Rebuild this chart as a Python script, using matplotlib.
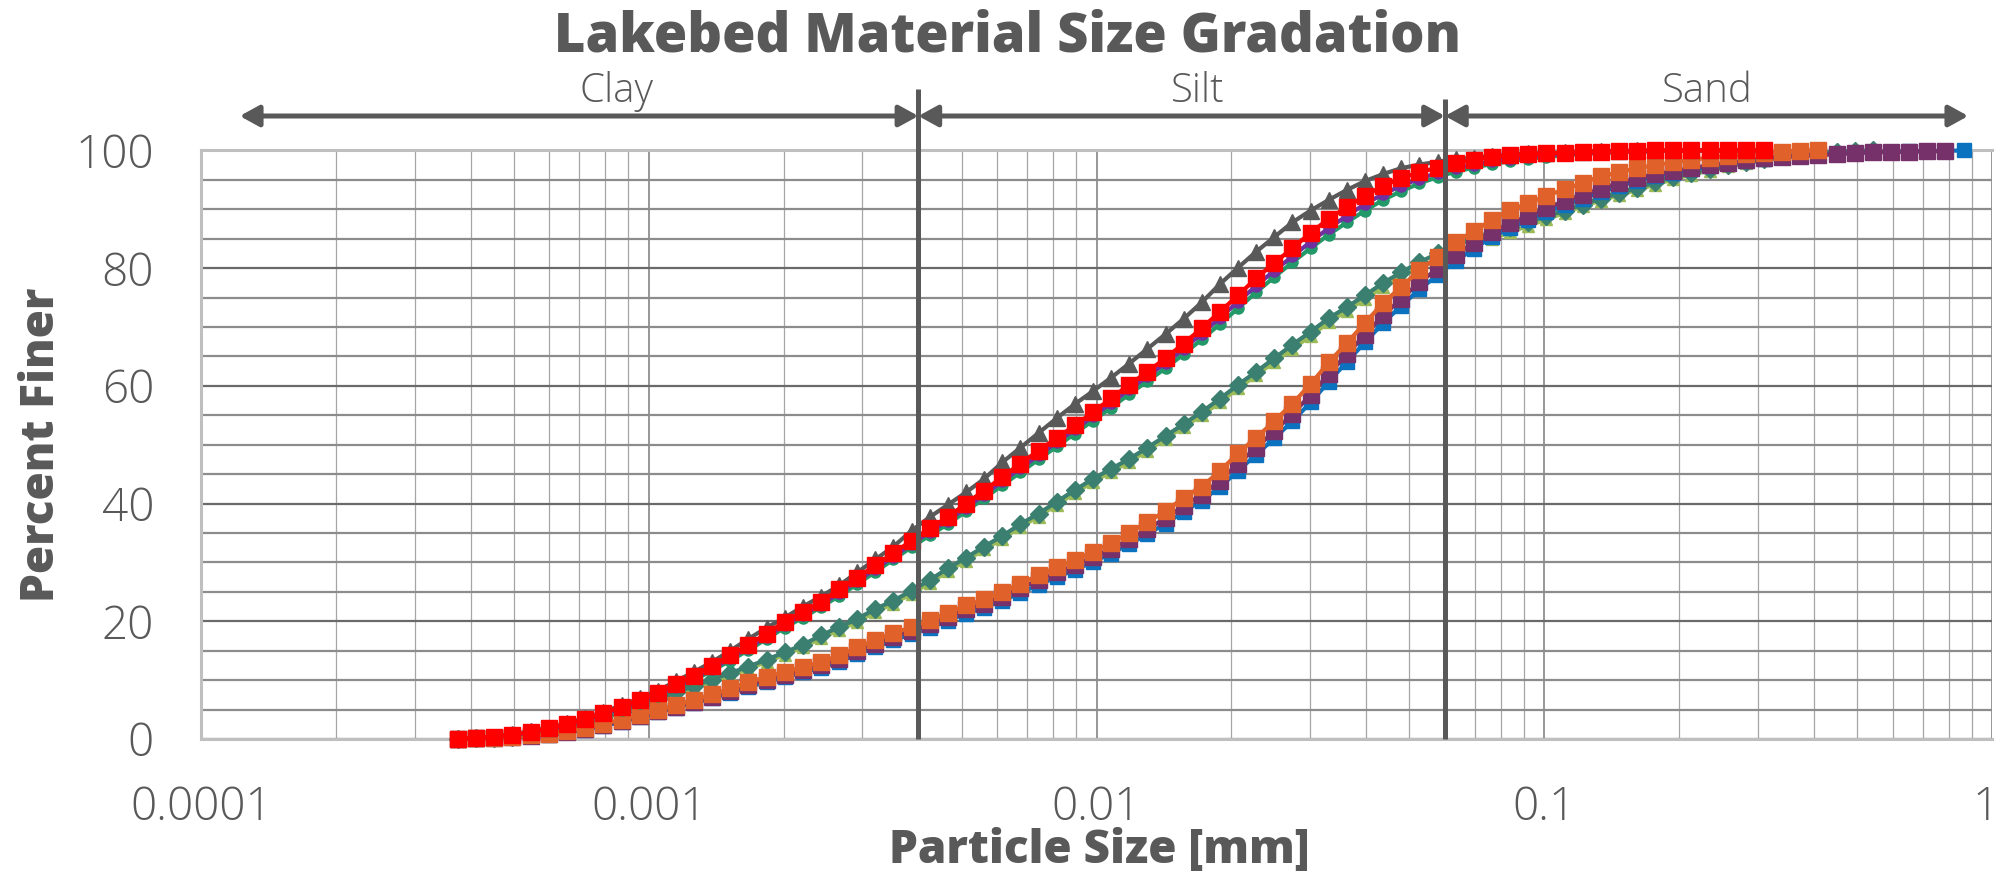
import numpy as np
import matplotlib
matplotlib.use("Agg")
import matplotlib.pyplot as plt
import matplotlib.transforms as mtransforms
from matplotlib.ticker import FixedLocator, LogLocator, MultipleLocator, NullFormatter

# Laser-diffraction channel sizes (mm)
SIZES_MM = [
    0.000375, 0.000412, 0.000452, 0.000496, 0.000545, 0.000598, 0.000657, 0.000721, 0.000791, 0.000869,
    0.000954, 0.001047, 0.001149, 0.001261, 0.001385, 0.001520, 0.001669, 0.001832, 0.002010, 0.002207,
    0.002423, 0.002660, 0.002920, 0.003205, 0.003519, 0.003863, 0.004240, 0.004655, 0.005110, 0.005610,
    0.006158, 0.006760, 0.007421, 0.008147, 0.008943, 0.009817, 0.01078, 0.01183, 0.01299, 0.01426,
    0.01565, 0.01718, 0.01886, 0.02071, 0.02273, 0.02495, 0.02739, 0.03007, 0.03301, 0.03624,
    0.03978, 0.04367, 0.04794, 0.05262, 0.05777, 0.06341, 0.06961, 0.07642, 0.08389, 0.09209,
    0.1011, 0.1110, 0.1218, 0.1337, 0.1468, 0.1612, 0.1769, 0.1942, 0.2132, 0.2341,
    0.2569, 0.2821, 0.3096, 0.3399, 0.3731, 0.4096, 0.4497, 0.4936, 0.5419, 0.5949,
    0.6530, 0.7168, 0.7869, 0.8639,
]

# Cumulative percent finer for each sample
SAMPLE_YG = [
    0.0, 0.1, 0.2, 0.4, 0.7, 1.1, 1.7, 2.5, 3.4, 4.4,
    5.4, 6.5, 7.5, 8.6, 9.7, 10.8, 11.9, 13.1, 14.3, 15.6,
    17.1, 18.5, 19.9, 21.6, 23.0, 24.7, 26.5, 28.5, 30.3, 32.2,
    34.0, 36.0, 37.8, 39.8, 41.8, 43.7, 45.4, 47.1, 49.0, 51.0,
    53.0, 55.0, 57.2, 59.6, 61.8, 64.1, 66.3, 68.5, 70.8, 72.8,
    74.8, 76.8, 78.6, 80.1, 81.4, 82.5, 83.8, 85.0, 86.1, 87.2,
    88.3, 89.4, 90.5, 91.5, 92.4, 93.3, 94.2, 95.1, 95.9, 96.6,
    97.3, 97.9, 98.4, 98.8, 99.2, 99.5, 99.7, 99.9, 100.0,
]
SAMPLE_TEAL = [
    0.0, 0.1, 0.2, 0.4, 0.7, 1.2, 1.8, 2.6, 3.6, 4.6,
    5.7, 6.8, 7.9, 9.0, 10.1, 11.2, 12.3, 13.5, 14.7, 16.0,
    17.6, 19.0, 20.4, 22.1, 23.5, 25.2, 27.0, 29.0, 30.8, 32.7,
    34.5, 36.5, 38.3, 40.3, 42.3, 44.2, 45.9, 47.6, 49.5, 51.5,
    53.5, 55.6, 57.8, 60.2, 62.4, 64.7, 67.0, 69.2, 71.5, 73.4,
    75.4, 77.5, 79.3, 81.0, 82.5, 83.8, 85.0, 86.0, 87.0, 87.9,
    88.8, 89.8, 90.8, 91.8, 92.7, 93.6, 94.6, 95.5, 96.2, 96.9,
    97.5, 98.1, 98.6, 99.0, 99.3, 99.6, 99.8, 99.9, 100.0,
]
SAMPLE_BLUE = [
    0.0, 0.1, 0.15, 0.25, 0.45, 0.7, 1.1, 1.6, 2.2, 2.9,
    3.7, 4.5, 5.3, 6.1, 6.9, 7.8, 8.8, 9.7, 10.5, 11.3,
    12.1, 13.1, 14.4, 15.6, 16.8, 17.8, 18.9, 20.1, 21.3, 22.3,
    23.5, 24.8, 26.2, 27.5, 28.7, 30.1, 31.5, 33.1, 34.8, 36.6,
    38.6, 40.5, 42.8, 45.6, 48.3, 51.1, 54.0, 57.2, 60.7, 64.1,
    67.4, 70.7, 73.6, 76.4, 78.8, 81.2, 83.3, 85.3, 86.8, 88.2,
    89.5, 90.7, 91.8, 92.9, 93.9, 94.8, 95.6, 96.2, 96.8, 97.3,
    97.8, 98.2, 98.6, 98.9, 99.1, 99.3, 99.45, 99.6, 99.7, 99.8,
    99.85, 99.9, 99.95, 100.0,
]
SAMPLE_PLUM = [
    0.0, 0.1, 0.2, 0.3, 0.5, 0.8, 1.2, 1.7, 2.4, 3.1,
    3.9, 4.7, 5.5, 6.3, 7.2, 8.2, 9.2, 10.1, 10.9, 11.7,
    12.6, 13.6, 15.0, 16.2, 17.4, 18.4, 19.5, 20.7, 22.0, 23.0,
    24.2, 25.6, 27.0, 28.3, 29.5, 30.9, 32.3, 33.9, 35.7, 37.5,
    39.6, 41.5, 43.9, 46.8, 49.5, 52.3, 55.2, 58.5, 62.0, 65.4,
    68.7, 72.0, 74.8, 77.6, 79.9, 82.3, 84.3, 86.2, 87.6, 88.9,
    90.2, 91.4, 92.5, 93.5, 94.5, 95.3, 96.0, 96.5, 97.0, 97.5,
    97.9, 98.3, 98.7, 98.9, 99.1, 99.2, 99.4, 99.6, 99.7, 99.75,
    99.8, 99.85, 99.9,
]
SAMPLE_ORANGE = [
    0.0, 0.1, 0.2, 0.35, 0.6, 0.9, 1.3, 1.9, 2.6, 3.3,
    4.1, 4.9, 5.8, 6.6, 7.6, 8.6, 9.6, 10.6, 11.4, 12.2,
    13.1, 14.2, 15.6, 16.8, 18.0, 19.0, 20.2, 21.4, 22.7, 23.7,
    25.0, 26.4, 27.8, 29.2, 30.4, 31.8, 33.3, 35.0, 36.9, 38.7,
    41.0, 42.9, 45.5, 48.6, 51.2, 54.0, 57.0, 60.3, 64.0, 67.3,
    70.7, 74.1, 76.8, 79.7, 81.9, 84.5, 86.3, 88.2, 89.9, 91.0,
    92.3, 93.4, 94.5, 95.6, 96.3, 97.0, 97.5, 98.0, 98.4, 98.8,
    99.1, 99.35, 99.6, 99.8, 99.95, 100.0,
]
SAMPLE_GREEN = [
    0.0, 0.15, 0.35, 0.6, 1.0, 1.6, 2.3, 3.1, 4.0, 5.0,
    6.1, 7.3, 8.6, 10.0, 11.6, 13.3, 15.1, 17.0, 18.9, 20.6,
    22.4, 24.3, 26.3, 28.4, 30.5, 32.6, 34.6, 36.5, 38.7, 40.9,
    43.1, 45.3, 47.5, 49.7, 51.9, 54.1, 56.3, 58.6, 60.8, 63.0,
    65.4, 67.9, 70.5, 73.2, 75.9, 78.5, 81.0, 83.4, 85.7, 87.8,
    89.8, 91.6, 93.1, 94.4, 95.5, 96.4, 97.1, 97.7, 98.2, 98.6,
    98.9, 99.2, 99.4, 99.6, 99.7, 99.8, 99.9, 99.95, 100.0, 100.0,
    100.0, 100.0, 100.0,
]
SAMPLE_VIOLET = [
    0.0, 0.2, 0.4, 0.7, 1.1, 1.7, 2.4, 3.2, 4.2, 5.2,
    6.3, 7.5, 8.9, 10.3, 11.9, 13.7, 15.5, 17.4, 19.3, 21.0,
    22.8, 24.8, 26.8, 28.9, 31.0, 33.1, 35.2, 37.1, 39.3, 41.5,
    43.8, 46.0, 48.2, 50.4, 52.6, 54.8, 57.1, 59.4, 61.6, 63.9,
    66.3, 68.9, 71.6, 74.3, 77.0, 79.6, 82.0, 84.5, 86.8, 88.9,
    90.9, 92.6, 94.0, 95.2, 96.2, 97.0, 97.6, 98.2, 98.6, 98.9,
    99.2, 99.4, 99.55, 99.7, 99.8, 99.85, 99.9, 99.95, 100.0, 100.0,
    100.0, 100.0, 100.0,
]
SAMPLE_GRAY = [
    0.0, 0.2, 0.4, 0.8, 1.3, 1.9, 2.7, 3.6, 4.6, 5.7,
    6.9, 8.2, 9.8, 11.4, 13.1, 15.0, 17.0, 18.9, 20.6, 22.5,
    24.2, 26.1, 28.3, 30.5, 32.7, 35.4, 37.7, 39.8, 41.9, 44.2,
    47.0, 49.5, 52.0, 54.5, 56.9, 59.1, 61.4, 63.8, 66.3, 68.8,
    71.4, 74.2, 77.3, 80.1, 82.8, 85.3, 87.8, 89.8, 91.6, 93.3,
    94.8, 96.0, 97.0, 97.6, 98.1, 98.5, 98.8, 99.1, 99.3, 99.5,
    99.6, 99.7, 99.8, 99.9, 99.95, 100.0, 100.0, 100.0, 100.0, 100.0,
    100.0, 100.0, 100.0,
]
SAMPLE_RED = [
    0.0, 0.2, 0.4, 0.7, 1.2, 1.8, 2.5, 3.4, 4.4, 5.5,
    6.6, 7.8, 9.3, 10.7, 12.4, 14.2, 16.0, 17.9, 19.9, 21.6,
    23.3, 25.4, 27.4, 29.5, 31.6, 33.7, 35.8, 37.7, 40.0, 42.2,
    44.5, 46.8, 49.0, 51.1, 53.3, 55.5, 57.9, 60.2, 62.4, 64.7,
    67.2, 69.8, 72.6, 75.4, 78.3, 80.9, 83.4, 86.0, 88.4, 90.4,
    92.3, 94.0, 95.3, 96.3, 97.1, 97.8, 98.4, 98.9, 99.2, 99.35,
    99.5, 99.6, 99.7, 99.8, 99.85, 99.9, 100.0, 100.0, 100.0, 100.0,
    100.0, 100.0, 100.0,
]

# Soil class boundaries (mm) and labels
CLASS_BOUNDS = [0.004, 0.06]
CLASS_NAMES = ["Clay", "Silt", "Sand"]

XTICKS = [0.0001, 0.001, 0.01, 0.1, 1]
XTICK_LABELS = ["0.0001", "0.001", "0.01", "0.1", "1"]
YTICKS = [0, 20, 40, 60, 80, 100]
YTICK_LABELS = ["0", "20", "40", "60", "80", "100"]

TEXT = "#595959"
plt.rcParams["font.family"] = ["Open Sans", "DejaVu Sans"]

# draw order: later entries sit on top
STYLES = [
    (SAMPLE_YG, "#9BBB59", "^", 9),
    (SAMPLE_TEAL, "#3B7F70", "D", 9.5),
    (SAMPLE_BLUE, "#0B72C0", "s", 10),
    (SAMPLE_PLUM, "#76306A", "s", 11),
    (SAMPLE_ORANGE, "#E0622A", "s", 11),
    (SAMPLE_GREEN, "#23996A", "o", 8),
    (SAMPLE_VIOLET, "#7030A0", "o", 8),
    (SAMPLE_GRAY, "#595959", "^", 11.5),
    (SAMPLE_RED, "#FF0000", "s", 11.5),
]

fig = plt.figure(figsize=(19.99, 8.77), dpi=100)
ax = fig.add_axes([0.1006, 0.1574, 0.8959, 0.6710])

for i, (vals, col, mk, ms) in enumerate(STYLES):
    ax.plot(SIZES_MM[:len(vals)], vals, color=col, lw=3.0, marker=mk, ms=ms,
            mfc=col, mec=col, clip_on=False, zorder=3 + i * 0.1)

ax.set_xscale("log")
ax.set_xlim(1e-4, 1)
ax.set_ylim(0, 100)
ax.xaxis.set_major_locator(FixedLocator(XTICKS))
ax.set_xticklabels(XTICK_LABELS)
ax.xaxis.set_minor_locator(LogLocator(base=10, subs=np.arange(2, 10), numticks=40))
ax.xaxis.set_minor_formatter(NullFormatter())
ax.yaxis.set_major_locator(FixedLocator(YTICKS))
ax.set_yticklabels(YTICK_LABELS)
ax.yaxis.set_minor_locator(MultipleLocator(5))

ax.set_axisbelow(True)
ax.grid(which="major", axis="x", color="#7A7A7A", lw=1.1)
ax.grid(which="minor", axis="x", color="#A6A6A6", lw=0.9)
ax.grid(which="major", axis="y", color="#6A6A6A", lw=1.6)
ax.grid(which="minor", axis="y", color="#8C8C8C", lw=1.6)
ax.tick_params(which="both", length=0)
ax.tick_params(axis="x", labelsize=33, labelcolor=TEXT, pad=33)
ax.tick_params(axis="y", labelsize=33, labelcolor=TEXT, pad=34)
for lab in ax.get_xticklabels() + ax.get_yticklabels():
    lab.set_fontweight("light")

# keep the last x label inside the canvas
last = ax.get_xticklabels()[-1]
last.set_horizontalalignment("right")
last.set_transform(last.get_transform() +
                   mtransforms.ScaledTranslation(7 / 100, 0, fig.dpi_scale_trans))

for side in ["top", "left", "bottom"]:
    ax.spines[side].set_color("#BFBFBF")
    ax.spines[side].set_linewidth(2.2)
ax.spines["right"].set_visible(False)

# class boundary lines and range arrows above the plot
xt = ax.get_xaxis_transform()
line_tops = [1.1045, 1.0875]
for b, top in zip(CLASS_BOUNDS, line_tops):
    ax.plot([b, b], [0, top], transform=xt, color="#595959", lw=3.6,
            clip_on=False, zorder=6, solid_capstyle="butt")

arrow_y = 1.0586
edges = [0.000122, CLASS_BOUNDS[0], CLASS_BOUNDS[1], 0.885]
for x0, x1 in zip(edges[:-1], edges[1:]):
    ax.annotate("", xy=(x1, arrow_y), xytext=(x0, arrow_y), xycoords=xt, textcoords=xt,
                arrowprops=dict(arrowstyle="<|-|>,head_length=0.4,head_width=0.22",
                                color="#595959", lw=3.6, mutation_scale=29,
                                shrinkA=0, shrinkB=0), annotation_clip=False)

label_x = [0.000845, 0.01684, 0.2318]
for lx, name in zip(label_x, CLASS_NAMES):
    ax.text(lx, 1.0824, name, transform=xt, ha="center", va="baseline",
            fontsize=29, color=TEXT, fontweight="light")

fig.text(0.5038, 1 - 52 / 877, "Lakebed Material Size Gradation", ha="center",
         va="baseline", fontsize=39, fontweight="heavy", color=TEXT)
fig.text(0.550, 1 - 863 / 877, "Particle Size [mm]", ha="center", va="baseline",
         fontsize=33, fontweight="heavy", color=TEXT)
fig.text(0.021, 0.4926, "Percent Finer", rotation=90, ha="center", va="center",
         fontsize=33, fontweight="heavy", color=TEXT)

fig.savefig("out.png", dpi=100)
